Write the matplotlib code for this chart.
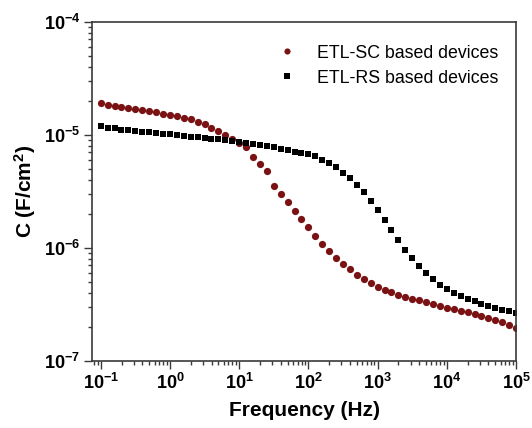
#!/usr/bin/env python3
"""Capacitance vs frequency for ETL-SC and ETL-RS based devices."""

import matplotlib

matplotlib.use("Agg")
import matplotlib.pyplot as plt
import numpy as np
from matplotlib.ticker import LogLocator, NullFormatter

plt.rcParams["font.family"] = ["Liberation Sans", "DejaVu Sans"]
plt.rcParams["font.weight"] = "bold"
plt.rcParams["mathtext.fontset"] = "custom"
plt.rcParams["mathtext.rm"] = "Liberation Sans:bold"
plt.rcParams["mathtext.it"] = "Liberation Sans:bold"
plt.rcParams["mathtext.bf"] = "Liberation Sans:bold"
plt.rcParams["axes.unicode_minus"] = False

# frequency sweep: 0.1 Hz .. 100 kHz, 10 points per decade
freq = np.logspace(-1, 5, 61)

cap_sc = [
    1.92e-5, 1.85e-5, 1.81e-5, 1.76e-5, 1.72e-5, 1.69e-5, 1.66e-5, 1.62e-5,
    1.59e-5, 1.54e-5, 1.50e-5, 1.46e-5, 1.41e-5, 1.37e-5, 1.30e-5, 1.24e-5,
    1.16e-5, 1.08e-5, 1.00e-5, 9.16e-6, 8.50e-6, 7.78e-6, 6.35e-6, 5.51e-6,
    4.80e-6, 3.54e-6, 3.01e-6, 2.55e-6, 2.12e-6, 1.81e-6, 1.52e-6, 1.28e-6,
    1.08e-6, 9.40e-7, 8.20e-7, 7.20e-7, 6.45e-7, 5.77e-7, 5.32e-7, 4.90e-7,
    4.52e-7, 4.25e-7, 4.08e-7, 3.84e-7, 3.68e-7, 3.54e-7, 3.47e-7, 3.33e-7,
    3.19e-7, 3.07e-7, 2.94e-7, 2.88e-7, 2.77e-7, 2.71e-7, 2.61e-7, 2.50e-7,
    2.40e-7, 2.31e-7, 2.21e-7, 2.08e-7, 1.96e-7,
]

cap_rs = [
    1.20e-5, 1.16e-5, 1.14e-5, 1.11e-5, 1.10e-5, 1.08e-5, 1.06e-5, 1.05e-5,
    1.03e-5, 1.02e-5, 1.01e-5, 9.93e-6, 9.80e-6, 9.66e-6, 9.54e-6, 9.40e-6,
    9.27e-6, 9.10e-6, 8.95e-6, 8.80e-6, 8.65e-6, 8.55e-6, 8.32e-6, 8.16e-6,
    8.04e-6, 7.78e-6, 7.56e-6, 7.37e-6, 7.10e-6, 6.95e-6, 6.75e-6, 6.43e-6,
    6.01e-6, 5.62e-6, 5.14e-6, 4.64e-6, 4.14e-6, 3.61e-6, 3.11e-6, 2.61e-6,
    2.15e-6, 1.77e-6, 1.44e-6, 1.18e-6, 9.66e-7, 8.11e-7, 6.89e-7, 5.93e-7,
    5.28e-7, 4.71e-7, 4.31e-7, 3.97e-7, 3.74e-7, 3.54e-7, 3.38e-7, 3.21e-7,
    3.08e-7, 2.96e-7, 2.84e-7, 2.77e-7, 2.64e-7,
]

x_decades = [1e-1, 1e0, 1e1, 1e2, 1e3, 1e4, 1e5]
y_decades = [1e-7, 1e-6, 1e-5, 1e-4]

fig = plt.figure(figsize=(5.32, 4.28), dpi=100)
ax = fig.add_axes([0.173, 0.157, 0.797, 0.792])

ax.plot(freq, cap_sc, "o", color="#7a1214", markersize=5.2, markeredgewidth=0,
        label="ETL-SC based devices")
ax.plot(freq, cap_rs, "s", color="black", markersize=4.6, markeredgewidth=0,
        label="ETL-RS based devices")

ax.set_xscale("log")
ax.set_yscale("log")
ax.set_xlim(0.075, 1e5)
ax.set_ylim(1e-7, 1e-4)

# only label the decades inside the view
ax.set_xticks(x_decades)
ax.set_yticks(y_decades)
ax.xaxis.set_minor_locator(LogLocator(base=10, subs=np.arange(2, 10), numticks=20))
ax.xaxis.set_minor_formatter(NullFormatter())
ax.yaxis.set_minor_locator(LogLocator(base=10, subs=np.arange(2, 10), numticks=20))
ax.yaxis.set_minor_formatter(NullFormatter())

for spine in ax.spines.values():
    spine.set_color("#3a3a3a")
    spine.set_linewidth(1.2)
ax.tick_params(which="both", direction="out", color="#3a3a3a", width=1.0,
               top=False, right=False)
ax.tick_params(which="major", length=5.5, labelsize=13, pad=3)
ax.tick_params(which="minor", length=3)

ax.set_xlabel("Frequency (Hz)", fontsize=15, fontweight="bold", labelpad=6)
ax.set_ylabel("C (F/cm$^2$)", fontsize=15, fontweight="bold", labelpad=4)

ax.legend(loc="upper right", frameon=False, handletextpad=0.7,
          prop={"size": 12.8, "weight": "normal"},
          borderaxespad=0.6, labelspacing=0.45, markerscale=0.85,
          bbox_to_anchor=(1.0, 0.985))

fig.savefig("out.png", dpi=100)
